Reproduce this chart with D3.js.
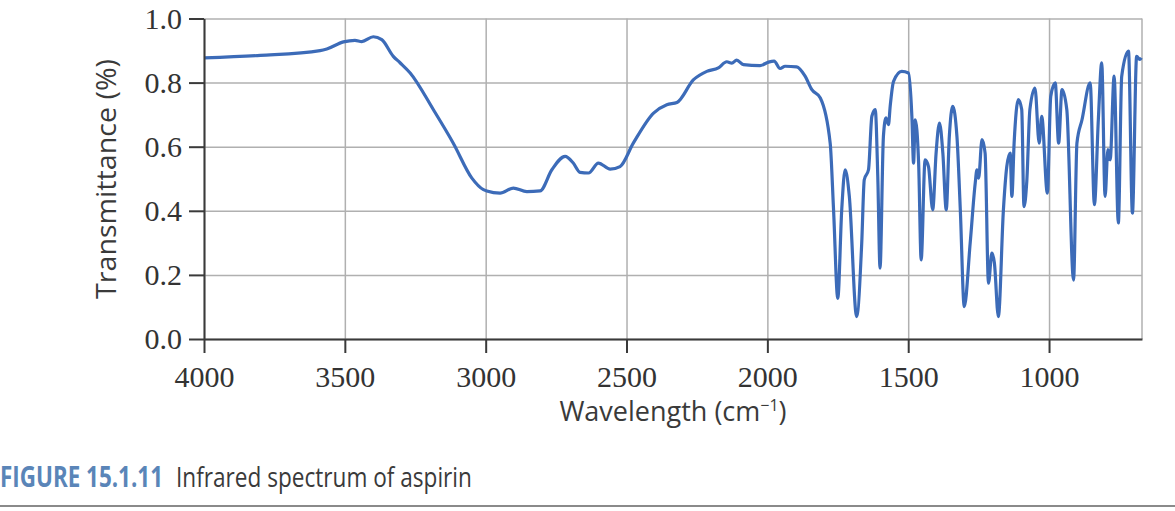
<!DOCTYPE html>
<html>
<head>
<meta charset="utf-8">
<title>Infrared spectrum of aspirin</title>
<script src="https://cdn.jsdelivr.net/npm/d3@7"></script>
<style>
  body { margin: 0; background: #fff; }
  .grid line { stroke: #b0b0b0; stroke-width: 1.5; }
  .axis path, .axis line { stroke: #3a3a3a; stroke-width: 2; }
  .axis text { font-family: "Liberation Serif", serif; font-size: 30px; fill: #333; }
  .axis-title { font-family: "Open Sans", sans-serif; fill: #3a3a3a; }
  .spectrum { fill: none; stroke: #3c6bb8; stroke-width: 3.2; stroke-linejoin: round; }
</style>
</head>
<body>
<div id="chart"></div>
<script>
// Wavenumber (cm-1), high to low
const wavenumbers = [
  4000, 3800, 3588, 3564, 3505, 3464, 3440, 3399, 3369, 3328, 3304, 3268, 3186, 3115,
  3049, 3008, 2996, 2949, 2902, 2854, 2807, 2765, 2718, 2689, 2665, 2635, 2600, 2558,
  2523, 2476, 2404, 2357, 2321, 2262, 2215, 2174, 2144, 2126, 2109, 2085, 2026, 1996,
  1976, 1955, 1937, 1896, 1866, 1842, 1812, 1777, 1765, 1750, 1736, 1724, 1709, 1683,
  1665, 1656, 1641, 1629, 1617, 1608, 1600, 1588, 1579, 1570, 1564, 1552, 1523, 1499,
  1487, 1481, 1475, 1463, 1454, 1440, 1428, 1413, 1401, 1389, 1377, 1365, 1354, 1342,
  1327, 1315, 1301, 1280, 1262, 1256, 1250, 1238, 1227, 1215, 1203, 1194, 1180, 1162,
  1150, 1138, 1132, 1124, 1109, 1097, 1089, 1079, 1068, 1050, 1035, 1026, 1006, 994,
  978, 966, 954, 937, 913, 901, 883, 854, 839, 825, 813, 801, 791, 783,
  769, 754, 742, 718, 704, 689, 678, 672
];

// Transmittance at each wavenumber above
const transmittance = [
  0.877, 0.885, 0.900, 0.905, 0.927, 0.932, 0.928, 0.943, 0.934, 0.882, 0.862, 0.830, 0.716, 0.611,
  0.502, 0.466, 0.462, 0.455, 0.471, 0.460, 0.462, 0.528, 0.570, 0.549, 0.520, 0.518, 0.549, 0.530,
  0.538, 0.611, 0.705, 0.731, 0.738, 0.809, 0.835, 0.846, 0.865, 0.861, 0.870, 0.856, 0.853, 0.864,
  0.867, 0.844, 0.851, 0.849, 0.820, 0.778, 0.752, 0.611, 0.403, 0.127, 0.403, 0.528, 0.445, 0.070,
  0.299, 0.497, 0.528, 0.695, 0.716, 0.507, 0.221, 0.632, 0.690, 0.669, 0.726, 0.804, 0.835, 0.830,
  0.695, 0.549, 0.684, 0.549, 0.247, 0.559, 0.538, 0.403, 0.580, 0.674, 0.580, 0.403, 0.632, 0.726,
  0.632, 0.403, 0.101, 0.299, 0.487, 0.528, 0.502, 0.622, 0.580, 0.174, 0.268, 0.237, 0.070, 0.403,
  0.538, 0.580, 0.445, 0.611, 0.747, 0.716, 0.413, 0.492, 0.716, 0.783, 0.611, 0.695, 0.455, 0.757,
  0.799, 0.611, 0.778, 0.716, 0.184, 0.611, 0.684, 0.799, 0.419, 0.684, 0.862, 0.445, 0.591, 0.559,
  0.820, 0.362, 0.820, 0.898, 0.393, 0.882, 0.872, 0.877
];

const xDomain = [4000, 670];
const xTicks = [4000, 3500, 3000, 2500, 2000, 1500, 1000];
const yTicks = [0, 0.2, 0.4, 0.6, 0.8, 1.0];

const figureNumber = 'FIGURE 15.1.11';
const figureCaption = 'Infrared spectrum of aspirin';

const containerWidth = 1175;
const containerHeight = 511;
const margin = {top: 18.5, right: 33, bottom: 172, left: 204};

const width = containerWidth - margin.left - margin.right;
const height = containerHeight - margin.top - margin.bottom;

const data = wavenumbers.map((w, i) => ({w: w, t: transmittance[i]}));

const svg = d3.select('#chart').append('svg')
    .attr('width', containerWidth)
    .attr('height', containerHeight);

const chart = svg.append('g')
    .attr('transform', `translate(${margin.left},${margin.top})`);

// Scales
const xScale = d3.scaleLinear()
    .domain(xDomain)
    .range([0, width]);

const yScale = d3.scaleLinear()
    .domain([0, 1])
    .range([height, 0]);

// Gridlines first, so the axes sit on top of them
chart.append('g')
    .attr('class', 'grid')
    .attr('transform', `translate(0,${height})`)
    .call(d3.axisBottom(xScale).tickValues(xTicks).tickSize(-height).tickFormat(''))
    .call(g => g.select('.domain').remove());

chart.append('g')
    .attr('class', 'grid')
    .call(d3.axisLeft(yScale).tickValues(yTicks).tickSize(-width).tickFormat(''))
    .call(g => g.select('.domain').remove());

// right frame edge
chart.append('g')
    .attr('class', 'grid')
  .append('line')
    .attr('x1', width).attr('x2', width)
    .attr('y1', 0).attr('y2', height);

// Spectrum
const line = d3.line()
    .x(d => xScale(d.w))
    .y(d => yScale(d.t))
    .curve(d3.curveMonotoneX);

chart.append('path')
    .datum(data)
    .attr('class', 'spectrum')
    .attr('d', line);

// Axes
chart.append('g')
    .attr('class', 'axis x-axis')
    .attr('transform', `translate(0,${height})`)
    .call(d3.axisBottom(xScale)
        .tickValues(xTicks)
        .tickSize(14)
        .tickSizeOuter(0)
        .tickPadding(13)
        .tickFormat(d3.format('d')));

chart.append('g')
    .attr('class', 'axis y-axis')
    .call(d3.axisLeft(yScale)
        .tickValues(yTicks)
        .tickSize(15)
        .tickSizeOuter(0)
        .tickPadding(7)
        .tickFormat(d3.format('.1f')));

// squeeze a text horizontally so it spans `w` pixels (the original type is condensed)
function fitText(sel, x, y, w) {
  const natural = sel.node().getComputedTextLength();
  sel.attr('transform', `translate(${x},${y}) scale(${w / natural},1)`);
}

// Axis titles
const xTitle = svg.append('text')
    .attr('class', 'axis-title')
    .attr('x', 673)
    .attr('y', 421)
    .style('font-size', '27px')
    .style('text-anchor', 'middle');
xTitle.append('tspan').text('Wavelength (cm');
xTitle.append('tspan')
    .attr('dy', -10)
    .style('font-size', '16px')
    .text('\u2212' + '1');
xTitle.append('tspan')
    .attr('dy', 10)
    .text(')');

svg.append('text')
    .attr('class', 'axis-title')
    .attr('transform', 'translate(116,179) rotate(-90)')
    .style('font-size', '27px')
    .style('text-anchor', 'middle')
    .attr('textLength', 240)
    .attr('lengthAdjust', 'spacingAndGlyphs')
    .text('Transmittance (%)');

// Caption and rule underneath
const capNumber = svg.append('text')
    .style('font-family', '"Open Sans", sans-serif')
    .style('font-weight', 'bold')
    .style('font-size', '28px')
    .style('fill', '#5a85b8')
    .text(figureNumber);
fitText(capNumber, 0, 487, 163);

const capText = svg.append('text')
    .style('font-family', '"Open Sans", sans-serif')
    .style('font-size', '28px')
    .style('fill', '#3a3a3a')
    .text(figureCaption);
fitText(capText, 176, 487, 296);

svg.append('line')
    .attr('x1', 0).attr('x2', containerWidth)
    .attr('y1', 506).attr('y2', 506)
    .style('stroke', '#8a8a8a')
    .style('stroke-width', 2);
</script>
</body>
</html>
